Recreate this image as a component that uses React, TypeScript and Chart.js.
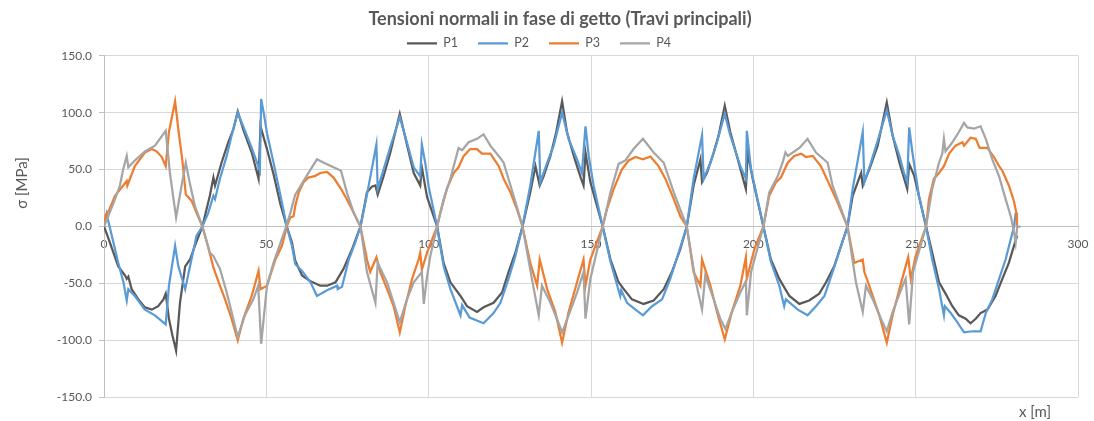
import React, { useEffect, useRef } from "react";
import { Chart, registerables } from "chart.js";

Chart.register(...registerables);

const TITLE = "Tensioni normali in fase di getto (Travi principali)";
const Y_TITLE = "σ [MPa]";
const X_TITLE = "x [m]";
const SERIES_NAMES = ["P1", "P2", "P3", "P4"];
const SERIES_COLORS = ["#595959", "#5B9BD5", "#ED7D31", "#A5A5A5"];
const X_TICKS = [0, 50, 100, 150, 200, 250, 300];
const Y_TICKS = [-150, -100, -50, 0, 50, 100, 150];

const P1_X = [0, 1.3, 2.9, 4.4, 6.5, 7, 7.5, 8.5, 10.6, 12.6, 14.7, 16.7, 18.3, 19, 20, 21.1, 22.2, 23.4, 25, 26.5, 28, 30.3,
  32.6, 33.7, 34.2, 36.2, 38.3, 39.8, 41.2, 42.9, 45.5, 47.6, 48.2, 50.2, 52.3, 54.3, 56.3,
  57.9, 58.9, 61, 63.6, 66.6, 68.7, 71.3, 73.8, 76.4, 79,
  81, 82.5, 83.6, 84.3, 86.1, 88.2, 91.1, 93.3, 95.4, 97.4, 97.9, 99.5, 102.6,
  104.6, 106.7, 109.8, 111.8, 114.9, 116.9, 120, 122.6, 124.6, 126.7, 128.9,
  131.3, 132.9, 134.2, 135.4, 137.5, 139.3, 141.1, 142.6, 144.7, 146.7, 147.7, 148.3, 149.8, 153.6,
  156, 158.5, 160.1, 162.6, 166.2, 169.3, 172.4, 174.9, 177.5, 179.5,
  181.6, 183.7, 184.2, 185.7, 187.8, 189.3, 191.2, 192.9, 195.5, 197.7, 198.3, 199.8, 203.1,
  205.4, 208, 211.1, 214.2, 217.2, 220.3, 222.4, 224.9, 229,
  230.6, 233.2, 233.7, 235.7, 238.3, 241.1, 242.9, 245, 247.4, 248, 249.5, 253.2,
  255.1, 257.2, 259.2, 261.3, 263.3, 265.4, 266.9, 268.5, 270, 272.1, 274.6, 276.7, 278.7, 280.6, 281.3];
const P1_Y = [0, -10, -23, -35, -43, -46, -44, -55, -64, -71, -73, -70, -64, -59, -81, -96, -109, -67, -35, -29, -17, 0,
  27, 43, 36, 56, 74, 85, 101, 85, 65, 42, 88, 68, 45, 20, 0,
  -14, -30, -43, -48, -52, -52, -49, -37, -20, 0,
  30, 35, 36, 28, 44, 65, 99, 72, 47, 36, 52, 26, 0,
  -32, -49, -61, -70, -75, -71, -67, -58, -40, -23, 0,
  30, 53, 36, 44, 62, 83, 110, 83, 62, 44, 36, 65, 39, 0,
  -29, -49, -55, -64, -68, -65, -55, -40, -20, 0,
  36, 59, 39, 47, 65, 80, 106, 83, 56, 33, 65, 42, 0,
  -29, -46, -61, -68, -65, -59, -49, -35, 0,
  27, 47, 36, 50, 71, 109, 80, 56, 33, 55, 45, 0,
  -23, -49, -59, -70, -78, -81, -85, -81, -76, -73, -61, -46, -32, -14, -8];

const P2_X = [0, 0.8, 2.9, 4.4, 6, 7, 7.5, 9.5, 12.6, 15.7, 19, 20, 21.9, 22.9, 25, 26.5, 28.5, 30.3,
  32.1, 33.7, 34.2, 35.7, 37.8, 39.3, 41.2, 42.9, 45.5, 48, 48.4, 49.3, 50.2, 52.3, 54.3, 56.3,
  57.9, 58.9, 61, 63.6, 65.6, 68.7, 71.8, 72, 73.3, 75.4, 77.4, 79,
  81, 83.9, 84.3, 86.1, 88.2, 91.1, 93.3, 95.4, 97.4, 97.9, 99, 100, 102.6,
  104.6, 106.7, 109.8, 110.3, 112.6, 116.9, 120, 122.1, 124.6, 126.7, 128.9,
  131.3, 133.9, 134.4, 136.5, 138.5, 141.1, 143.1, 145.7, 147.2, 148.3, 149.3, 150.8, 153.6,
  156, 159, 159.3, 161.1, 163.7, 166, 168.8, 171.9, 174.4, 177, 179.5,
  181.6, 184.2, 184.7, 186.8, 188.8, 191.2, 192.9, 196, 197.7, 198, 199.3, 203.1,
  205.4, 208, 209.5, 210, 213.7, 216.7, 219.3, 221.9, 224.4, 229,
  230.6, 233.7, 234.2, 236.2, 238.8, 241.1, 242.9, 245, 246.4, 247.4, 248, 249, 251, 253.2,
  255.1, 257.2, 258.7, 259, 260.8, 262.8, 264.9, 267.5, 270, 271.6, 273.6, 275.7, 277.7, 279.3, 280.3, 280.8];
const P2_Y = [0, 11, -14, -32, -49, -65, -55, -61, -73, -78, -86, -52, -17, -35, -55, -35, -8, 0,
  12, 27, 24, 42, 62, 80, 100, 88, 69, 49, 112, 98, 82, 55, 28, 0,
  -17, -33, -39, -49, -61, -56, -52, -55, -53, -29, -14, 0,
  28, 72, 33, 50, 70, 96, 74, 52, 44, 72, 55, 35, 0,
  -35, -55, -78, -69, -80, -85, -76, -67, -46, -26, 0,
  36, 84, 39, 56, 71, 100, 77, 59, 47, 88, 62, 36, 0,
  -31, -61, -56, -67, -73, -78, -70, -64, -46, -23, 0,
  42, 80, 42, 56, 74, 99, 80, 53, 42, 84, 50, 0,
  -31, -52, -70, -64, -73, -78, -70, -61, -40, 0,
  33, 83, 39, 56, 80, 102, 80, 62, 47, 39, 87, 65, 27, 0,
  -29, -55, -78, -70, -76, -84, -93, -92, -92, -76, -64, -46, -29, -11, 0, 12];

const P3_X = [0, 0.5, 1.5, 3.4, 7, 7.2, 9.5, 12.6, 14.7, 16.2, 17.8, 19, 20, 21.9, 22.9, 24.1, 25.2, 27, 28.5, 30.3,
  32, 33.7, 34.2, 35.7, 37.3, 39.3, 41.2, 42.9, 45.5, 47.6, 48.2, 50.2, 52.8, 54.8, 56.3,
  57.4, 58.4, 58.9, 60, 61.5, 63, 65.1, 66.6, 68.7, 70.7, 72.8, 74.8, 76.9, 79,
  81, 82, 83.9, 85.1, 87.2, 89.2, 91.1, 92.8, 94.9, 96.9, 97.4, 97.9, 99.5, 102.6,
  103.6, 105.6, 107.7, 109.2, 110.8, 112.8, 114.9, 116.4, 119, 121.6, 123.1, 125.2, 127.2, 128.9,
  131.3, 133.4, 134.2, 136.5, 139, 141.1, 143.1, 145.7, 147.7, 148.3, 149.8, 153.6,
  154.9, 157, 159.5, 161.6, 163.7, 166, 168.3, 170.8, 172.9, 175.5, 177.5, 179.5,
  181.6, 183.7, 184.2, 186.8, 188.8, 191.2, 193.4, 196, 197.7, 198, 200.3, 203.1,
  204.9, 207, 208.5, 210.6, 212.6, 214.7, 216.2, 218.3, 220.8, 223.4, 225.5, 229,
  231.1, 233.7, 234.2, 235.7, 238.8, 241.1, 242.9, 245, 246.9, 247.7, 248.5, 250, 253.2,
  254.1, 255.6, 257.2, 258.7, 260.3, 262.3, 264.4, 264.9, 266.9, 268.5, 269.7, 272.1, 274.1, 275.7, 276.7, 278.7, 280.3, 281, 281.2];
const P3_Y = [0, 10, 14, 27, 40, 36, 53, 65, 68, 66, 61, 53, 83, 110, 85, 59, 28, 22.5, 12, 0,
  -17, -36, -40, -52, -64, -81, -100, -81, -61, -39, -55, -52, -29, -17, 0,
  8, 9, 18, 30, 39, 43, 44.5, 47, 48, 43, 34, 24, 12, 0,
  -29, -40, -27, -40, -55, -70, -93, -70, -46, -29, -23, -38, -23, 0,
  12, 33, 47, 52, 62, 68, 68, 64, 64, 53, 42, 30, 15, 0,
  -32, -52, -29, -55, -75, -102, -75, -49, -29, -52, -29, 0,
  15, 33, 50, 58, 61, 59, 61.5, 53, 42, 24, 9, 0,
  -40, -52, -29, -52, -75, -99, -75, -52, -27, -46, -20, 0,
  27, 39, 43, 56, 62, 64, 61, 62, 53, 37, 24, 0,
  -32, -29, -40, -52, -78, -102, -78, -55, -35, -27, -46, -26, 0,
  24, 42, 47, 53, 64, 71, 74, 71, 78, 77, 69, 69, 61, 53, 49, 36, 22, 12, 0];

const P4_X = [0, 1.3, 3.4, 4.9, 5.9, 7, 7.5, 9.5, 12.6, 15.7, 19, 20.3, 22.2, 23.9, 25.2, 26.5, 28, 30.3,
  32.6, 33.7, 35.7, 37.8, 39.3, 41.2, 43.4, 46, 47.5, 48.4, 50.2, 52.2, 56.1,
  57.4, 58.9, 60, 61.5, 63.6, 65.6, 67.7, 70.7, 73, 74.8, 76.9, 79,
  81, 83.6, 84.3, 87.2, 89.2, 91.1, 93.3, 95.4, 97.9, 98.5, 99.5, 100.5, 102.6,
  104.6, 106.7, 109.2, 110.3, 112.3, 114.9, 116.9, 119, 122.1, 123.1, 125.2, 127.2, 128.9,
  131.8, 133.9, 134.9, 137.5, 139.5, 141.1, 143.1, 145.7, 147.7, 148.3, 149.8, 153.6,
  156, 158.5, 160.6, 163.1, 166, 169.3, 172.4, 175.5, 179.5,
  182.1, 184.2, 185.2, 187.8, 189.8, 191.4, 193.4, 196, 197.7, 198, 199.3, 203.1,
  204.9, 207.5, 209, 209.9, 210.6, 214.2, 216.7, 219.3, 222.9, 224.4, 229,
  231.6, 233.7, 234.7, 236.8, 239.3, 241.1, 242.9, 246, 246.9, 248, 249.2, 253.2,
  255.1, 257.2, 258.2, 258.7, 259.2, 261.3, 263.3, 264.9, 265.9, 268, 270, 271.6, 273.6, 275.7, 277.7, 279.3, 280.3, 280.8, 281.3, 282.3];
const P4_Y = [0, 9, 24, 36, 50, 62, 52, 58, 66, 71, 84, 47, 8, 36, 56, 37, 18, 0,
  -23, -26, -37, -58, -75, -97, -78, -64, -52, -103, -52, -32, 0,
  12, 28, 33, 40, 50, 59, 56, 52, 49, 30, 12, 0,
  -40, -67, -32, -49, -67, -84, -64, -49, -40, -68, -44, -26, 0,
  24, 42, 69, 67, 74, 77, 81, 71, 60, 56, 36, 17, 0,
  -46, -78, -52, -67, -81, -93, -78, -58, -40, -81, -46, 0,
  30, 55, 58, 68, 77, 65, 56, 30, 0,
  -46, -73, -43, -64, -81, -90, -75, -58, -48, -78, -40, 0,
  30, 44, 56, 65, 62, 69, 77, 65, 56, 36, 0,
  -49, -75, -52, -64, -81, -92, -75, -52, -46, -86, -40, 0,
  33, 56, 64, 77, 66, 74, 83, 91, 87, 86, 88, 77, 59, 44, 24, 9, -5, -14, 0, 0];

const SERIES_X = [P1_X, P2_X, P3_X, P4_X];
const SERIES_Y = [P1_Y, P2_Y, P3_Y, P4_Y];

const FONT = "Lato, 'Open Sans', sans-serif";
const TEXT_COLOR = "#595959";

const textPlugin = {
  id: "customTexts",
  afterDraw(chart: any) {
    const { ctx } = chart;
    ctx.save();
    ctx.fillStyle = TEXT_COLOR;
    ctx.textBaseline = "middle";
    ctx.textAlign = "center";
    ctx.font = `bold 18px ${FONT}`;
    ctx.fillText(TITLE, 560, 19);
    ctx.font = `15px ${FONT}`;
    ctx.fillText(X_TITLE, 1035, 412);
    ctx.translate(22, 183);
    ctx.rotate(-Math.PI / 2);
    ctx.fillText(Y_TITLE, 0, 0);
    ctx.restore();
  },
};

export default function App() {
  const ref = useRef<HTMLCanvasElement | null>(null);
  useEffect(() => {
    if (!ref.current) return;
    const datasets = SERIES_NAMES.map((name, i) => ({
      label: name,
      data: SERIES_X[i].map((x, j) => ({ x, y: SERIES_Y[i][j] })),
      borderColor: SERIES_COLORS[i],
      backgroundColor: SERIES_COLORS[i],
      borderWidth: 2.25,
      pointRadius: 0,
      tension: 0,
      order: 3 - i,
    }));
    const chart = new Chart(ref.current, {
      type: "line",
      data: { datasets },
      plugins: [textPlugin],
      options: {
        animation: false,
        responsive: true,
        maintainAspectRatio: false,
        layout: { padding: { top: 17, left: 0, right: 16, bottom: 23.7 } },
        plugins: {
          title: { display: false },
          tooltip: { enabled: false },
          legend: {
            position: "top",
            maxHeight: 38.7,
            labels: {
              usePointStyle: true,
              pointStyle: "line",
              pointStyleWidth: 30,
              padding: 20,
              color: TEXT_COLOR,
              font: { family: FONT, size: 12.5 },
              sort: (a: any, b: any) => a.datasetIndex - b.datasetIndex,
            },
          },
        },
        scales: {
          x: {
            type: "linear",
            position: { y: 0 } as any,
            min: 0,
            max: 300,
            afterBuildTicks: (s: any) => {
              s.ticks = X_TICKS.map((v) => ({ value: v }));
            },
            afterFit: (s: any) => {
              s.paddingLeft = 0;
              s.paddingRight = 0;
            },
            ticks: {
              color: TEXT_COLOR,
              font: { family: FONT, size: 12 },
              padding: 10,
              maxRotation: 0,
            },
            grid: { color: "#d9d9d9", drawTicks: false, lineWidth: 1 },
            border: { color: "#bfbfbf" },
          },
          y: {
            type: "linear",
            min: -150,
            max: 150,
            afterFit: (s: any) => {
              s.width = 104;
            },
            afterBuildTicks: (s: any) => {
              s.ticks = Y_TICKS.map((v) => ({ value: v }));
            },
            ticks: {
              color: TEXT_COLOR,
              font: { family: FONT, size: 12 },
              padding: 7,
              callback: (v: any) => Number(v).toFixed(1),
            },
            grid: { color: "#d9d9d9", tickColor: "#bfbfbf", tickLength: 5 },
            border: { color: "#bfbfbf" },
          },
        },
      },
    });
    return () => chart.destroy();
  }, []);
  return (
    <div style={{ position: "fixed", left: 0, top: 0, width: 1094, height: 421, background: "#fff" }}>
      <canvas ref={ref} />
    </div>
  );
}
